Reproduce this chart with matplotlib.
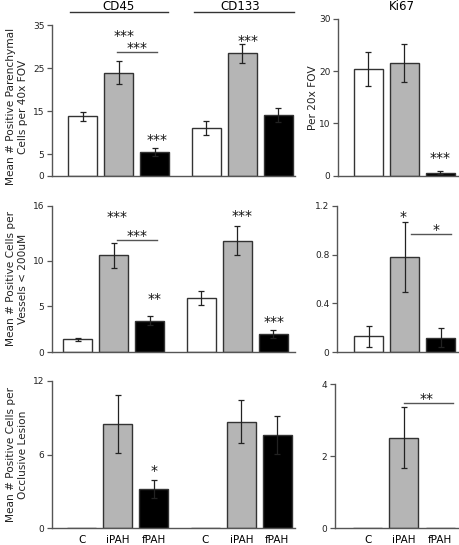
import matplotlib
matplotlib.use('Agg')
import matplotlib.pyplot as plt
import matplotlib.transforms as mtransforms

groups = ['C', 'iPAH', 'fPAH']
pos_a = [0, 1, 2]
pos_b = [3.43, 4.43, 5.43]

# parenchymal cells
cd45_par = [13.8, 24.0, 5.6]
cd45_par_err = [1.1, 2.6, 0.9]
cd133_par = [11.1, 28.5, 14.2]
cd133_par_err = [1.7, 2.2, 1.6]
ki67_par = [20.4, 21.6, 0.6]
ki67_par_err = [3.2, 3.6, 0.35]

# vessels < 200uM
cd45_ves = [1.4, 10.6, 3.45]
cd45_ves_err = [0.2, 1.35, 0.5]
cd133_ves = [5.9, 12.2, 2.0]
cd133_ves_err = [0.75, 1.55, 0.4]
ki67_ves = [0.13, 0.78, 0.12]
ki67_ves_err = [0.085, 0.285, 0.08]

# occlusive lesions
cd45_les = [0, 8.5, 3.2]
cd45_les_err = [0, 2.4, 0.7]
cd133_les = [0, 8.7, 7.6]
cd133_les_err = [0, 1.75, 1.55]
ki67_les = [0, 2.52, 0]
ki67_les_err = [0, 0.85, 0]

colors = ['white', '#b5b5b5', 'black']
EDGE = '#333333'
SPINE = '#555555'

fig = plt.figure(figsize=(4.6, 5.45), dpi=100)
plt.rcParams['font.family'] = 'DejaVu Sans'


def px_axes(x0, y0, x1, y1):
    W, H = 460.0, 545.0
    return fig.add_axes([x0 / W, 1 - y1 / H, (x1 - x0) / W, (y1 - y0) / H])


def draw_bars(ax, pos, vals, errs):
    ax.bar(pos, vals, width=0.8, color=colors, edgecolor=EDGE, linewidth=1.0, zorder=2)
    for p, v, e in zip(pos, vals, errs):
        if e > 0:
            ax.errorbar(p, v, yerr=e, fmt='none', ecolor='#222222', elinewidth=0.9,
                        capsize=2.2, capthick=0.9, zorder=3)


def style(ax, xlim, yticks, ylabels):
    ax.set_xlim(*xlim)
    ax.set_ylim(0, yticks[-1])
    ax.set_yticks(yticks)
    ax.set_yticklabels(ylabels, fontsize=6.5, color='#222222')
    for s in ['top', 'right']:
        ax.spines[s].set_visible(False)
    for s in ['left', 'bottom']:
        ax.spines[s].set_color(SPINE)
        ax.spines[s].set_linewidth(1.0)
    ax.tick_params(axis='y', length=3.5, width=0.9, color=SPINE, pad=2)
    ax.tick_params(axis='x', length=0, pad=4.5)
    ax.patch.set_alpha(0)


def stars(ax, x, y, s):
    ax.text(x, y, s, ha='center', va='center', fontsize=10, color='#111111')


def bracket(ax, x0, x1, y):
    ax.plot([x0, x1], [y, y], color=SPINE, lw=1.0, clip_on=False)


def group_title(ax, x0, x1, xt, ly, ty, label, line=True):
    tr = mtransforms.blended_transform_factory(ax.transData, ax.transAxes)
    if line:
        ax.plot([x0, x1], [ly, ly], color='#333333', lw=1.0, transform=tr, clip_on=False)
    ax.text(xt, ty, label, ha='center', va='baseline', fontsize=8.5, transform=tr)


ylab_kw = dict(fontsize=7.6, linespacing=1.15, color='#222222')

# ---- row 1: parenchymal
ax = px_axes(52, 25.4, 295, 175.7)
draw_bars(ax, pos_a, cd45_par, cd45_par_err)
draw_bars(ax, pos_b, cd133_par, cd133_par_err)
style(ax, (-0.85, 5.89), [0, 5, 15, 25, 35], ['0', '5', '15', '25', '35'])
ax.set_xticks([])
ax.set_ylabel('Mean # Positive Parenchymal\nCells per 40x FOV', **ylab_kw)
ax.yaxis.set_label_coords(-0.1, 0.46)
stars(ax, 1.15, 32.6, '***')
bracket(ax, 0.96, 2.07, 28.7)
stars(ax, 1.51, 29.8, '***')
stars(ax, 2.07, 8.2, '***')
stars(ax, 4.6, 31.4, '***')
group_title(ax, -0.35, 2.37, 1.0, 1.087, 1.102, 'CD45')
group_title(ax, 3.1, 5.85, 4.37, 1.087, 1.102, 'CD133')

ax = px_axes(338, 19, 460, 175.7)
draw_bars(ax, pos_a, ki67_par, ki67_par_err)
style(ax, (-0.83, 2.54), [0, 10, 20, 30], ['0', '10', '20', '30'])
ax.set_xticks([])
ax.set_ylabel('Per 20x FOV', **ylab_kw)
ax.yaxis.set_label_coords(-0.165, 0.5)
stars(ax, 2.0, 3.3, '***')
group_title(ax, 0, 0, 0.94, 1.0, 1.057, 'Ki67', line=False)

# ---- row 2: vessels
ax = px_axes(52, 205.7, 295, 352.3)
draw_bars(ax, pos_a, cd45_ves, cd45_ves_err)
draw_bars(ax, pos_b, cd133_ves, cd133_ves_err)
style(ax, (-0.71, 6.03), [0, 5, 10, 16], ['0', '5', '10', '16'])
ax.set_xticks([])
ax.set_ylabel('Mean # Positive Cells per\nVessels < 200uM', **ylab_kw)
ax.yaxis.set_label_coords(-0.1, 0.5)
stars(ax, 1.10, 14.75, '***')
bracket(ax, 1.10, 2.21, 12.27)
stars(ax, 1.65, 12.68, '***')
stars(ax, 2.13, 5.79, '**')
stars(ax, 4.57, 14.86, '***')
stars(ax, 5.46, 3.28, '***')

ax = px_axes(337, 205.7, 460, 352.3)
draw_bars(ax, pos_a, ki67_ves, ki67_ves_err)
style(ax, (-0.875, 2.54), [0, 0.4, 0.8, 1.2], ['0', '0.4', '0.8', '1.2'])
ax.set_xticks([])
stars(ax, 0.96, 1.105, '*')
bracket(ax, 1.18, 2.29, 0.968)
stars(ax, 1.875, 0.998, '*')

# ---- row 3: occlusive lesions
ax = px_axes(52, 381, 295, 528.3)
draw_bars(ax, pos_a, cd45_les, cd45_les_err)
draw_bars(ax, pos_b, cd133_les, cd133_les_err)
style(ax, (-0.82, 5.92), [0, 6, 12], ['0', '6', '12'])
ax.set_xticks(pos_a + pos_b)
ax.set_xticklabels(groups + groups, fontsize=7.5)
ax.set_ylabel('Mean # Positive Cells per\nOcclusive Lesion', **ylab_kw)
ax.yaxis.set_label_coords(-0.1, 0.5)
stars(ax, 2.01, 4.67, '*')

ax = px_axes(335, 384.3, 460, 528.3)
draw_bars(ax, pos_a, ki67_les, ki67_les_err)
style(ax, (-0.9, 2.55), [0, 2, 4], ['0', '2', '4'])
ax.set_xticks(pos_a)
ax.set_xticklabels(groups, fontsize=7.5)
bracket(ax, 1.0, 2.36, 3.47)
stars(ax, 1.64, 3.58, '**')

fig.savefig('out.png', dpi=100)
